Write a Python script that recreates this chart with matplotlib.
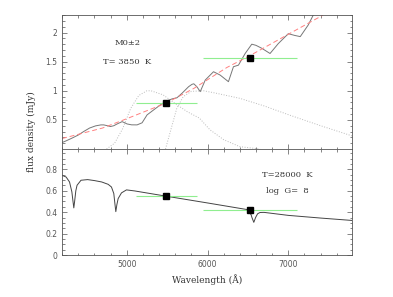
import matplotlib
matplotlib.use('Agg')
import matplotlib.pyplot as plt
from matplotlib.ticker import MultipleLocator, FixedLocator
import numpy as np

# M0 star spectrum (top panel)
m0_wave = [4200, 4250, 4323, 4400, 4467, 4540, 4614, 4680, 4716, 4760, 4799, 4840,
           4881, 4943, 4975, 5005, 5060, 5128, 5190, 5252, 5333, 5416, 5498, 5560,
           5622, 5684, 5766, 5807, 5830, 5868, 5910, 5972, 6074, 6156, 6259, 6321,
           6383, 6466, 6548, 6600, 6671, 6774, 6876, 7000, 7080, 7148, 7247, 7309]
m0_flux = [0.111, 0.14, 0.187, 0.24, 0.30, 0.36, 0.397, 0.414, 0.414, 0.40, 0.386, 0.40,
           0.43, 0.47, 0.45, 0.43, 0.415, 0.414, 0.45, 0.586, 0.671, 0.757, 0.826, 0.86,
           0.88, 0.957, 1.07, 1.11, 1.12, 1.07, 0.985, 1.184, 1.327, 1.27, 1.156, 1.413,
           1.44, 1.64, 1.80, 1.78, 1.73, 1.64, 1.81, 1.98, 1.95, 1.93, 2.13, 2.30]

# fitted continuum (red dashed)
fit_wave = [4200, 4700, 5000, 5490, 5830, 6240, 6520, 7000, 7430]
fit_flux = [0.18, 0.36, 0.52, 0.79, 1.04, 1.40, 1.60, 1.97, 2.30]

# filter transmission curves (dotted), scaled
v_wave = [4750, 4850, 4950, 5050, 5150, 5250, 5300, 5450, 5600, 5750, 5900, 6030, 6200, 6400, 6650]
v_trans = [0.0, 0.1, 0.35, 0.7, 0.92, 1.0, 1.0, 0.93, 0.78, 0.64, 0.53, 0.33, 0.16, 0.04, 0.0]
r_wave = [5480, 5550, 5620, 5700, 5800, 5950, 6100, 6400, 6700, 7020, 7400, 7800]
r_trans = [0.0, 0.35, 0.7, 0.9, 0.99, 1.0, 0.96, 0.87, 0.74, 0.58, 0.40, 0.22]

# white dwarf spectrum (bottom panel)
wd_wave = [4200, 4250, 4292, 4321, 4335, 4345, 4355, 4370, 4385, 4434, 4516, 4600,
           4690, 4770, 4811, 4840, 4855, 4865, 4878, 4894, 4935, 4997, 5100, 5490,
           6000, 6500, 6530, 6550, 6573, 6595, 6620, 6650, 6700, 7000, 7400, 7800]
wd_flux = [0.744, 0.728, 0.682, 0.589, 0.50, 0.44, 0.50, 0.60, 0.651, 0.698, 0.704, 0.695,
           0.682, 0.66, 0.635, 0.574, 0.47, 0.405, 0.47, 0.527, 0.58, 0.608, 0.598, 0.549,
           0.486, 0.423, 0.40, 0.35, 0.305, 0.35, 0.385, 0.397, 0.398, 0.37, 0.345, 0.322]

# photometry (V, R)
phot_wave = [5490, 6523]
phot_halfwidth = [377, 583]
m0_phot = [0.786, 1.558]
wd_phot = [0.549, 0.416]

fc = '#555555'
plt.rcParams['font.size'] = 5.5
plt.rcParams['axes.edgecolor'] = fc
plt.rcParams['axes.linewidth'] = 0.6
plt.rcParams['xtick.color'] = fc
plt.rcParams['ytick.color'] = fc

fig = plt.figure(figsize=(3.93, 2.97), dpi=100)
ax1 = fig.add_axes([0.158, 0.4983, 0.738, 0.451])
ax2 = fig.add_axes([0.158, 0.1414, 0.738, 0.357])

ax1.plot(v_wave, v_trans, color='#bbbbbb', ls=':', lw=0.7)
ax1.plot(r_wave, r_trans, color='#bbbbbb', ls=':', lw=0.7)
ax1.plot(m0_wave, m0_flux, color='#777777', lw=0.7)
ax1.plot(fit_wave, fit_flux, color='#ff8080', ls=(0, (5, 3)), lw=0.7)
ax1.errorbar(phot_wave, m0_phot, xerr=phot_halfwidth, yerr=0.03, fmt='none',
             ecolor='#90ee90', elinewidth=0.8, capsize=0)
ax1.plot(phot_wave, m0_phot, 's', color='black', ms=4.5)
ax1.text(5010, 1.82, 'M0±2', ha='center', va='center', family='DejaVu Serif', color='#333333', fontsize=6)
ax1.text(5010, 1.49, 'T= 3850  K', ha='center', va='center', family='DejaVu Serif', color='#333333', fontsize=6)

ax2.plot(wd_wave, wd_flux, color='#444444', lw=0.7)
ax2.errorbar(phot_wave, wd_phot, xerr=phot_halfwidth, fmt='none',
             ecolor='#90ee90', elinewidth=0.8, capsize=0)
ax2.errorbar(phot_wave, wd_phot, yerr=0.03, fmt='none', ecolor='#444444', elinewidth=0.6, capsize=0)
ax2.plot(phot_wave, wd_phot, 's', color='black', ms=4.5)
ax2.text(6985, 0.75, 'T=28000  K', ha='center', va='center', family='DejaVu Serif', color='#333333', fontsize=6)
ax2.text(6985, 0.595, 'log  G=  8', ha='center', va='center', family='DejaVu Serif', color='#333333', fontsize=6)

for ax in (ax1, ax2):
    ax.set_xlim(4200, 7790)
    ax.xaxis.set_major_locator(MultipleLocator(1000))
    ax.xaxis.set_minor_locator(MultipleLocator(200))
    ax.tick_params(which='both', direction='in', top=True, right=True)
    ax.tick_params(which='major', length=3.6, width=0.5)
    ax.tick_params(which='minor', length=1.8, width=0.5)

ax1.set_ylim(0, 2.3)
ax1.yaxis.set_major_locator(FixedLocator([0.5, 1.0, 1.5, 2.0]))
ax1.yaxis.set_minor_locator(MultipleLocator(0.1))
ax1.set_yticklabels(['0.5', '1', '1.5', '2'])
ax1.set_xticklabels([])

ax2.set_ylim(0, 0.99)
ax2.yaxis.set_major_locator(FixedLocator([0, 0.2, 0.4, 0.6, 0.8]))
ax2.yaxis.set_minor_locator(MultipleLocator(0.05))
ax2.set_yticklabels(['0', '0.2', '0.4', '0.6', '0.8'])
ax2.set_xlabel('Wavelength (Å)', family='DejaVu Serif', color='#333333', fontsize=6.5, labelpad=4)

fig.text(0.079, 0.556, 'flux density (mJy)', rotation=90, ha='center', va='center',
         family='DejaVu Serif', color='#333333', fontsize=6.5)

fig.savefig('out.png', dpi=100)
